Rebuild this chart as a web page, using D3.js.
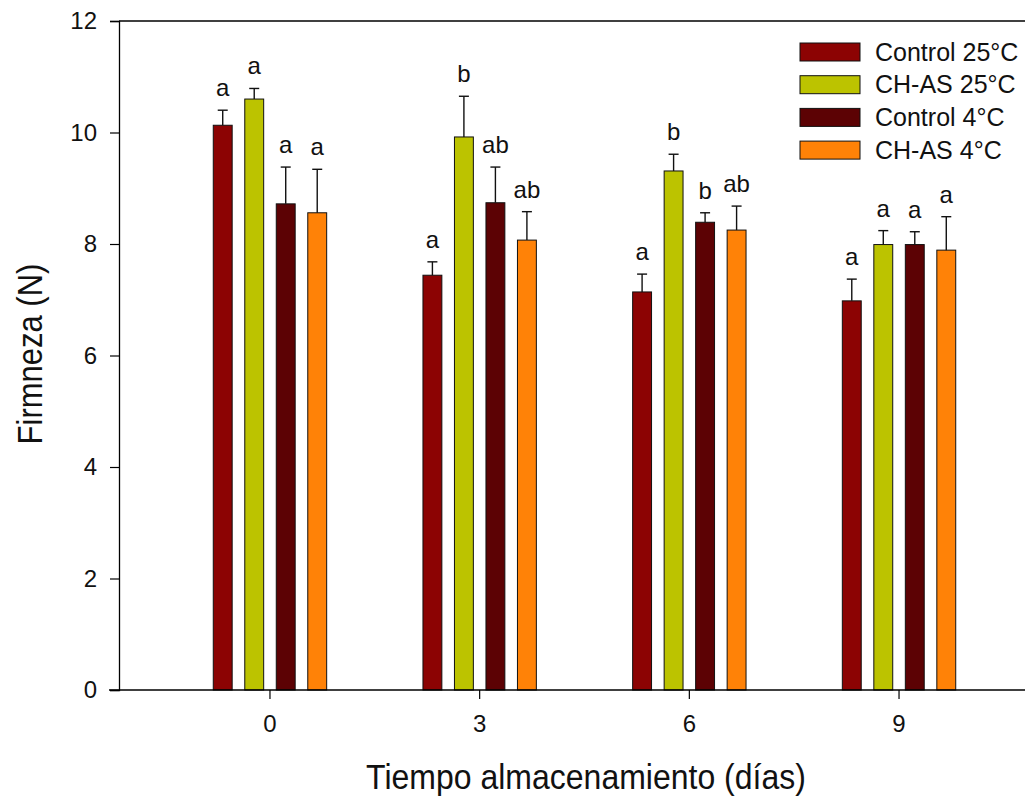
<!DOCTYPE html>
<html>
<head>
<meta charset="utf-8">
<script src="https://cdn.jsdelivr.net/npm/d3@7"></script>
<style>
  html, body { margin: 0; padding: 0; background: #ffffff; }
  svg { display: block; font-family: "Liberation Sans", Arial, sans-serif; }
</style>
</head>
<body>
<svg id="chart" width="1025" height="798"></svg>
<script>
// Storage days on the x axis
const days = ["0", "3", "6", "9"];
// Treatments
const series = ["Control 25°C", "CH-AS 25°C", "Control 4°C", "CH-AS 4°C"];
const colors = ["#8c0303", "#bcc300", "#5c0204", "#ff8207"];
// Mean firmness (N) per treatment, one entry per day
const control25 = [10.13, 7.44, 7.14, 6.98];
const chas25    = [10.60, 9.92, 9.31, 7.99];
const control4  = [8.72, 8.74, 8.39, 7.99];
const chas4     = [8.56, 8.07, 8.25, 7.89];
// Standard error per treatment
const control25Err = [0.27, 0.24, 0.32, 0.39];
const chas25Err    = [0.19, 0.73, 0.30, 0.25];
const control4Err  = [0.66, 0.64, 0.17, 0.23];
const chas4Err     = [0.78, 0.51, 0.43, 0.60];
// Significance letters
const control25Sig = ["a", "a", "a", "a"];
const chas25Sig    = ["a", "b", "b", "a"];
const control4Sig  = ["a", "ab", "b", "a"];
const chas4Sig     = ["a", "ab", "ab", "a"];
// Y ticks
const yTicks = [0, 2, 4, 6, 8, 10, 12];

const means = [control25, chas25, control4, chas4];
const errs = [control25Err, chas25Err, control4Err, chas4Err];
const sigs = [control25Sig, chas25Sig, control4Sig, chas4Sig];

const rows = [];
days.forEach((d, i) => {
  series.forEach((s, j) => {
    rows.push({ day: d, series: s, idx: j, value: means[j][i], err: errs[j][i], sig: sigs[j][i] });
  });
});

const svg = d3.select("#chart");
const plotLeft = 119, plotRight = 1050, plotTop = 21, plotBottom = 690;

const x = d3.scaleBand().domain(days).range([plotLeft, plotRight]).paddingInner(0).paddingOuter(0.22);
const xs = d3.scaleBand().domain(series).range([-63, 63]).paddingInner(0.4).paddingOuter(0.2);
const y = d3.scaleLinear().domain([0, 12]).range([plotBottom, plotTop]);

// Top border of the plot frame
svg.append("line")
  .attr("x1", plotLeft).attr("x2", plotRight)
  .attr("y1", plotTop).attr("y2", plotTop)
  .attr("stroke", "#000").attr("stroke-width", 1.3);

// Bars
const g = svg.append("g");
g.selectAll("rect.bar").data(rows).join("rect")
  .attr("class", "bar")
  .attr("x", d => x(d.day) + x.bandwidth() / 2 + xs(d.series))
  .attr("y", d => y(d.value))
  .attr("width", xs.bandwidth())
  .attr("height", d => y(0) - y(d.value))
  .attr("fill", d => colors[d.idx])
  .attr("stroke", "#111")
  .attr("stroke-width", 1);

// Error bars (upper half)
const cx = d => x(d.day) + x.bandwidth() / 2 + xs(d.series) + xs.bandwidth() / 2;
g.selectAll("line.err").data(rows).join("line")
  .attr("class", "err")
  .attr("x1", cx).attr("x2", cx)
  .attr("y1", d => y(d.value)).attr("y2", d => y(d.value + d.err))
  .attr("stroke", "#111").attr("stroke-width", 1.4);
g.selectAll("line.cap").data(rows).join("line")
  .attr("class", "cap")
  .attr("x1", d => cx(d) - 5).attr("x2", d => cx(d) + 5)
  .attr("y1", d => y(d.value + d.err)).attr("y2", d => y(d.value + d.err))
  .attr("stroke", "#111").attr("stroke-width", 1.4);

// Significance letters
g.selectAll("text.sig").data(rows).join("text")
  .attr("class", "sig")
  .attr("x", cx)
  .attr("y", d => y(d.value + d.err) - 14)
  .attr("text-anchor", "middle")
  .attr("font-size", 24)
  .attr("fill", "#111")
  .text(d => d.sig);

// Y axis
const yAxis = svg.append("g")
  .attr("transform", `translate(${plotLeft},0)`)
  .call(d3.axisLeft(y).tickValues(yTicks).tickSize(9).tickPadding(13).tickFormat(d3.format("d")));
yAxis.select(".domain").attr("stroke", "#000").attr("stroke-width", 1.3);
yAxis.selectAll(".tick line").attr("stroke", "#000").attr("stroke-width", 1.2);
yAxis.selectAll(".tick text").attr("font-size", 24).attr("fill", "#111")
  .attr("font-family", "Liberation Sans, Arial, sans-serif");

// X axis
const xAxis = svg.append("g")
  .attr("transform", `translate(0,${plotBottom})`)
  .call(d3.axisBottom(x).tickSize(9).tickPadding(16).tickSizeOuter(0));
xAxis.select(".domain").attr("stroke", "#000").attr("stroke-width", 1.3)
  .attr("d", `M${plotLeft - 10},0H${plotRight}`);
xAxis.selectAll(".tick line").attr("stroke", "#000").attr("stroke-width", 1.2);
xAxis.selectAll(".tick text").attr("font-size", 24).attr("fill", "#111")
  .attr("font-family", "Liberation Sans, Arial, sans-serif");

// Axis titles
svg.append("text")
  .attr("transform", "translate(586,789) scale(1,1.12)")
  .attr("text-anchor", "middle")
  .attr("font-size", 32)
  .attr("fill", "#111")
  .text("Tiempo almacenamiento (días)");
svg.append("text")
  .attr("transform", "translate(42,354) rotate(-90) scale(1,1.12)")
  .attr("text-anchor", "middle")
  .attr("font-size", 31)
  .attr("fill", "#111")
  .text("Firmneza (N)");

// Legend
const legend = svg.append("g").attr("transform", "translate(800,43)");
const li = legend.selectAll("g").data(series).join("g")
  .attr("transform", (d, i) => `translate(0,${i * 32.7})`);
li.append("rect")
  .attr("width", 60).attr("height", 18)
  .attr("fill", (d, i) => colors[i])
  .attr("stroke", "#111").attr("stroke-width", 1);
li.append("text")
  .attr("x", 75).attr("y", 9)
  .attr("dy", "0.35em")
  .attr("font-size", 25)
  .attr("fill", "#111")
  .text(d => d);
</script>
</body>
</html>
